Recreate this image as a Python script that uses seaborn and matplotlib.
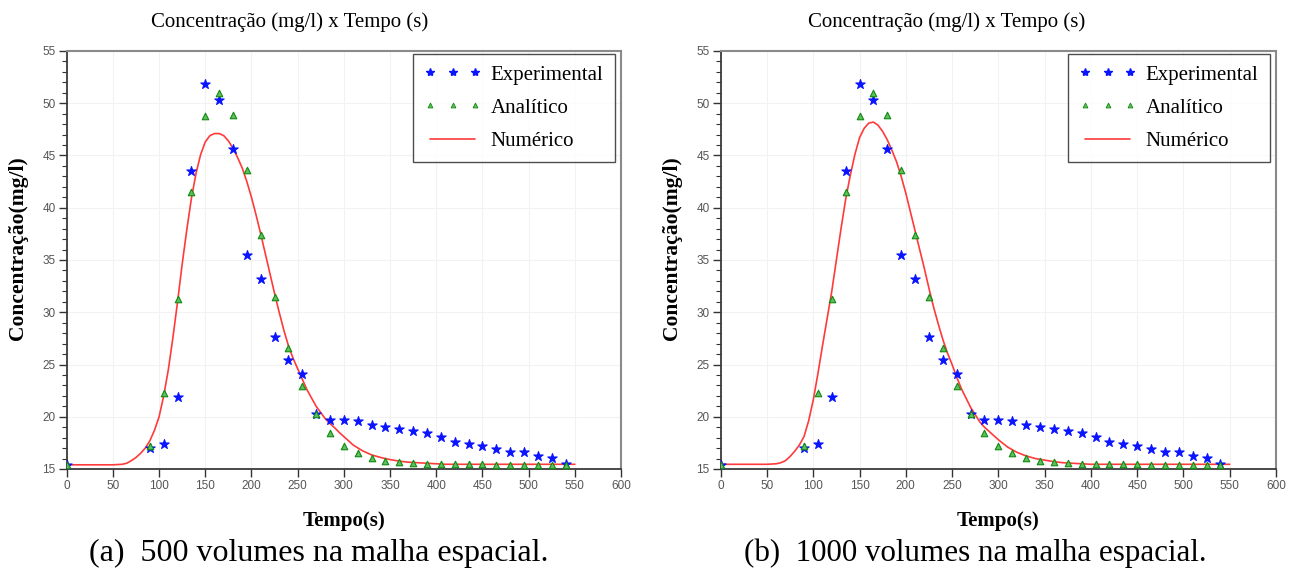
import matplotlib
matplotlib.use("Agg")
import matplotlib.pyplot as plt
import seaborn as sns
import numpy as np
import pandas as pd
from matplotlib.lines import Line2D
from matplotlib.ticker import MultipleLocator

# ---------------- data ----------------
tempo_pts = [0, 90, 105, 120, 135, 150, 165, 180, 195, 210, 225, 240, 255, 270, 285,
             300, 315, 330, 345, 360, 375, 390, 405, 420, 435, 450, 465, 480, 495,
             510, 525, 540]
experimental = [15.4, 17.0, 17.4, 21.9, 43.5, 51.8, 50.3, 45.6, 35.5, 33.2, 27.6, 25.4,
                24.1, 20.3, 19.7, 19.7, 19.6, 19.2, 19.0, 18.8, 18.6, 18.4, 18.1, 17.6,
                17.4, 17.2, 16.9, 16.6, 16.6, 16.2, 16.1, 15.5]
analitico = [15.4, 17.2, 22.3, 31.3, 41.5, 48.8, 51.0, 48.9, 43.6, 37.4, 31.5, 26.6,
             22.9, 20.3, 18.4, 17.2, 16.5, 16.1, 15.8, 15.65, 15.55, 15.5, 15.5, 15.45,
             15.45, 15.45, 15.4, 15.4, 15.4, 15.4, 15.4, 15.4]

tempo_num = [0, 10, 20, 30, 40, 50, 60, 65, 70, 75, 80, 85, 90, 95, 100, 105, 110, 115,
             120, 125, 130, 135, 140, 145, 150, 155, 160, 165, 170, 175, 180, 185, 190,
             195, 200, 205, 210, 215, 220, 225, 230, 235, 240, 245, 250, 255, 260, 265,
             270, 275, 280, 285, 290, 295, 300, 310, 320, 330, 340, 350, 360, 370, 380,
             390, 400, 410, 420, 430, 440, 450, 460, 470, 480, 490, 500, 510, 520, 530,
             540, 550]
numerico_500 = [15.4, 15.4, 15.4, 15.4, 15.4, 15.4, 15.45, 15.55, 15.8, 16.1, 16.5, 17.0,
                17.7, 18.7, 20.0, 22.0, 24.5, 27.6, 31.0, 34.6, 37.9, 40.9, 43.3, 45.1,
                46.3, 46.9, 47.1, 47.1, 46.9, 46.4, 45.7, 44.8, 43.8, 42.5, 41.0, 39.3,
                37.5, 35.6, 33.7, 31.8, 30.0, 28.3, 26.8, 25.6, 24.6, 23.6, 22.6, 21.8,
                21.0, 20.4, 19.8, 19.35, 18.95, 18.5, 18.1, 17.3, 16.75, 16.35, 16.1,
                15.9, 15.75, 15.65, 15.6, 15.55, 15.5, 15.45, 15.45, 15.45, 15.45, 15.45,
                15.45, 15.45, 15.45, 15.45, 15.45, 15.45, 15.45, 15.45, 15.45, 15.45]
numerico_1000 = [15.45, 15.45, 15.45, 15.45, 15.45, 15.45, 15.5, 15.6, 15.8, 16.2, 16.7,
                 17.3, 18.1, 19.6, 21.6, 24.1, 26.8, 29.4, 32.0, 35.0, 38.0, 40.8, 43.1,
                 45.1, 46.7, 47.6, 48.1, 48.2, 47.9, 47.3, 46.5, 45.5, 44.4, 43.0, 41.4,
                 39.6, 37.8, 36.0, 34.2, 32.3, 30.5, 28.9, 27.4, 26.1, 25.0, 23.8, 22.7,
                 21.8, 20.9, 20.2, 19.5, 19.0, 18.6, 18.2, 17.8, 17.1, 16.6, 16.25, 16.0,
                 15.85, 15.7, 15.6, 15.55, 15.5, 15.45, 15.45, 15.45, 15.45, 15.45, 15.45,
                 15.45, 15.45, 15.45, 15.45, 15.45, 15.45, 15.45, 15.45, 15.45, 15.45]

x_ticks = [0, 50, 100, 150, 200, 250, 300, 350, 400, 450, 500, 550, 600]
y_ticks = [15, 20, 25, 30, 35, 40, 45, 50, 55]

titulo = "Concentração (mg/l) x Tempo (s)"
xlabel = "Tempo(s)"
ylabel = "Concentração(mg/l)"
legendas = ["Experimental", "Analítico", "Numérico"]
legendas_sub = ["(a)  500 volumes na malha espacial.", "(b)  1000 volumes na malha espacial."]

# ---------------- style ----------------
sns.set_theme(style="white")
plt.rcParams['font.family'] = ['Liberation Serif', 'DejaVu Serif']
plt.rcParams['text.color'] = 'black'
plt.rcParams['axes.labelcolor'] = 'black'

BLUE = "#0a14ff"
GREEN_FACE = "#5fbf5f"
GREEN_EDGE = "#108a10"
RED = "#ff3a3a"

W, H = 1293, 574
fig = plt.figure(figsize=(W / 100, H / 100), dpi=100)

def ax_rect(x0, y0, x1, y1):
    return [x0 / W, 1 - y1 / H, (x1 - x0) / W, (y1 - y0) / H]

axes = [fig.add_axes(ax_rect(66.7, 51, 621, 469)),
        fig.add_axes(ax_rect(720.7, 51, 1276, 469))]
numericos = [numerico_500, numerico_1000]
title_x = [290, 947]
caption_x = [319, 975]
caption_fs = [23, 22.3]
ylabel_x = [18, 672]
xlabel_x = [344, 998]

df_pts = pd.DataFrame({"t": tempo_pts, "exp": experimental, "ana": analitico})

for i, ax in enumerate(axes):
    df_num = pd.DataFrame({"t": tempo_num, "num": numericos[i]})
    sns.lineplot(data=df_num, x="t", y="num", ax=ax, color=RED, lw=1.2, zorder=2)
    sns.scatterplot(data=df_pts, x="t", y="exp", ax=ax, marker="*", s=50, color=BLUE,
                    edgecolor=BLUE, linewidth=0.8, zorder=3)
    sns.scatterplot(data=df_pts, x="t", y="ana", ax=ax, marker="^", s=22,
                    color=GREEN_FACE, edgecolor=GREEN_EDGE, linewidth=0.8, zorder=4)

    ax.set_xlim(0, 600)
    ax.set_ylim(15, 55)
    ax.set_xticks(x_ticks)
    ax.set_yticks(y_ticks)
    ax.yaxis.set_minor_locator(MultipleLocator(1))
    ax.tick_params(axis="both", which="major", direction="out", length=6, width=1,
                   color="#333333", labelsize=8.5, labelcolor="#555555", pad=2,
                   bottom=True, left=True)
    ax.tick_params(axis="y", which="minor", direction="out", length=3.6, width=0.8,
                   color="#333333", left=True)
    for lab in ax.get_xticklabels() + ax.get_yticklabels():
        lab.set_fontfamily("Liberation Sans")
    ax.grid(True, which="major", color="#f2f2f2", lw=0.8)
    ax.set_axisbelow(True)
    for side in ["left", "bottom"]:
        ax.spines[side].set_color("#3a3a3a")
        ax.spines[side].set_linewidth(1.3)
    for side in ["top", "right"]:
        ax.spines[side].set_color("#8a8a8a")
        ax.spines[side].set_linewidth(1.5)

    ax.set_xlabel("")
    ax.set_ylabel("")
    fig.text(xlabel_x[i] / W, 1 - 521 / H, xlabel, fontsize=15,
             fontweight="bold", ha="center", va="center")
    fig.text(ylabel_x[i] / W, 1 - 248 / H, ylabel, rotation=90, fontsize=15.5,
             fontweight="bold", ha="center", va="center")
    fig.text(title_x[i] / W, 1 - 22 / H, titulo, fontsize=15, ha="center", va="center")
    fig.text(caption_x[i] / W, 1 - 553 / H, legendas_sub[i], fontsize=caption_fs[i],
             ha="center", va="center")

    handles = [
        Line2D([], [], marker="*", ls="none", color=BLUE, markersize=6),
        Line2D([], [], marker="^", ls="none", markerfacecolor=GREEN_FACE,
               markeredgecolor=GREEN_EDGE, markersize=3.5, markeredgewidth=0.6),
        Line2D([], [], color=RED, lw=1.2),
    ]
    leg = ax.legend(handles, legendas, loc="upper right", bbox_to_anchor=(0.989, 0.994),
                    numpoints=3, handlelength=2.75, handletextpad=0.45, fontsize=15,
                    frameon=True, fancybox=False, borderpad=0.55, labelspacing=0.65,
                    borderaxespad=0)
    leg.get_frame().set_edgecolor("#222222")
    leg.get_frame().set_linewidth(1.0)

fig.savefig("out.png", dpi=100)
